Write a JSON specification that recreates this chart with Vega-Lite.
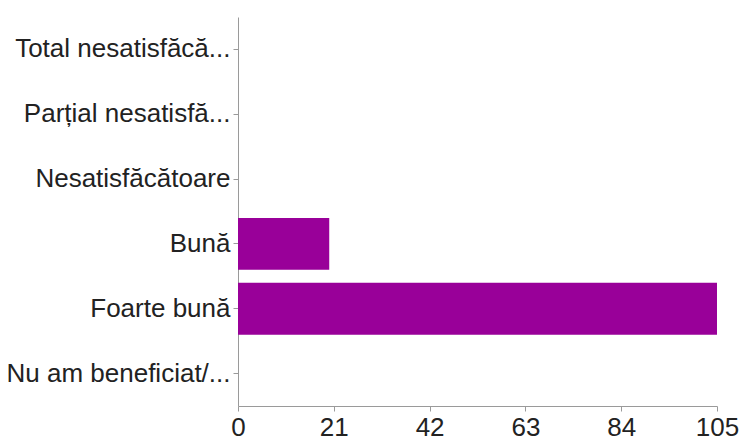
{
  "$schema": "https://vega.github.io/schema/vega-lite/v6.json",
  "width": 479,
  "height": 389,
  "autosize": {"type": "none"},
  "padding": {"left": 238, "top": 17, "right": 22, "bottom": 34},
  "background": "white",
  "config": {"view": {"stroke": null}, "font": "Liberation Sans"},
  "data": {
    "values": [
      {"raspuns": "Total nesatisfăcă...", "numar": 0},
      {"raspuns": "Parțial nesatisfă...", "numar": 0},
      {"raspuns": "Nesatisfăcătoare", "numar": 0},
      {"raspuns": "Bună", "numar": 20},
      {"raspuns": "Foarte bună", "numar": 105},
      {"raspuns": "Nu am beneficiat/...", "numar": 0}
    ]
  },
  "mark": {"type": "bar", "color": "#990099"},
  "encoding": {
    "y": {
      "field": "raspuns",
      "type": "nominal",
      "sort": null,
      "scale": {"paddingInner": 0.2, "paddingOuter": 0.1},
      "axis": {
        "title": null,
        "domainColor": "#9a9a9a",
        "tickColor": "#9a9a9a",
        "tickSize": 5,
        "labelPadding": 3,
        "labelFontSize": 26,
        "labelColor": "#222222",
        "labelLimit": 240
      }
    },
    "x": {
      "field": "numar",
      "type": "quantitative",
      "scale": {"domain": [0, 105], "nice": false},
      "axis": {
        "title": null,
        "values": [0, 21, 42, 63, 84, 105],
        "grid": false,
        "domainColor": "#9a9a9a",
        "tickColor": "#9a9a9a",
        "tickSize": 5,
        "labelPadding": 3,
        "labelFontSize": 26,
        "labelColor": "#222222",
        "labelFlush": false
      }
    }
  }
}
